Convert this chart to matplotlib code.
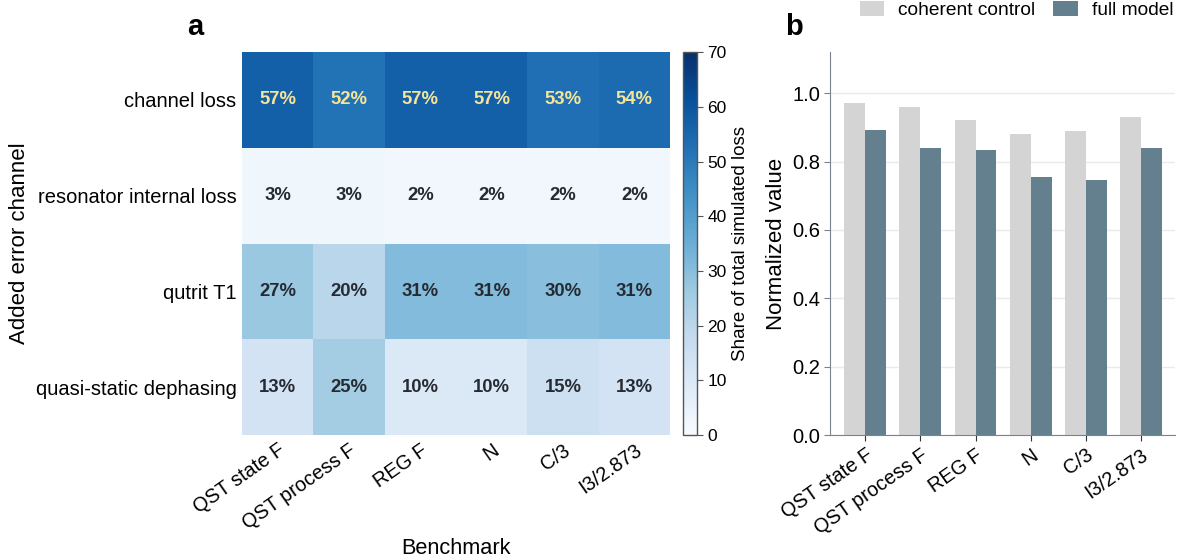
import matplotlib
matplotlib.use("Agg")
import matplotlib.pyplot as plt
import numpy as np

plt.rcParams["font.family"] = ["Liberation Sans", "DejaVu Sans"]

# heatmap data (share of total simulated loss, %)
benchmarks = ["QST state F", "QST process F", "REG F", "N", "C/3", "I3/2.873"]
channels = ["channel loss", "resonator internal loss", "qutrit T1", "quasi-static dephasing"]
channel_loss = [57, 52, 57, 57, 53, 54]
resonator_loss = [3, 3, 2, 2, 2, 2]
qutrit_t1 = [27, 20, 31, 31, 30, 31]
dephasing = [13, 25, 10, 10, 15, 13]

# bar data
coherent_control = [0.97, 0.96, 0.92, 0.88, 0.89, 0.93]
full_model = [0.893, 0.84, 0.835, 0.755, 0.746, 0.84]

bench_labels = ["QST state F", "QST process F", "REG F", "N", "C/3", "I3/2.873"]

grid = np.array([channel_loss, resonator_loss, qutrit_t1, dephasing], dtype=float)

fig = plt.figure(figsize=(11.79, 5.59), dpi=100)

# --- panel a: heatmap
ax = fig.add_axes([0.2053, 0.2218, 0.363, 0.685])
cax = fig.add_axes([0.5793, 0.2218, 0.0119, 0.685])
mesh = ax.pcolormesh(grid, cmap="Blues", vmin=0, vmax=70, linewidth=0)
ax.set_xlim(0, grid.shape[1])
ax.set_ylim(grid.shape[0], 0)
for i in range(grid.shape[0]):
    for j in range(grid.shape[1]):
        v = grid[i, j]
        col = "#f5e59a" if v > 45 else "#262b33"
        ax.text(j + 0.5, i + 0.5, f"{v:.0f}%", ha="center", va="center",
                fontsize=13.3, fontweight="bold", color=col)
ax.set_xticks(np.arange(len(benchmarks)) + 0.5)
ax.set_xticklabels(benchmarks, rotation=35, ha="right", rotation_mode="anchor", fontsize=14.3)
ax.set_yticks(np.arange(len(channels)) + 0.5)
ax.set_yticklabels(channels, fontsize=14.5)
ax.tick_params(length=0, pad=4)
for s in ax.spines.values():
    s.set_visible(False)
ax.set_xlabel("Benchmark", fontsize=15.7)
ax.set_ylabel("Added error channel", fontsize=16)
ax.text(-0.11, 1.03, "a", transform=ax.transAxes, fontsize=21, fontweight="bold",
        ha="center", va="bottom")

cb = fig.colorbar(mesh, cax=cax, ticks=range(0, 71, 10))
cb.set_label("Share of total simulated loss", fontsize=13.5)
cb.ax.tick_params(labelsize=12.5, length=4, color="#555555")
cb.outline.set_edgecolor("#555555")
cb.outline.set_linewidth(1)

# --- panel b: bars
bx = fig.add_axes([0.704, 0.2218, 0.2926, 0.685])
x = np.arange(len(bench_labels))
w = 0.38
bx.bar(x - w / 2, coherent_control, width=w, color="#d4d4d4", label="coherent control", zorder=2)
bx.bar(x + w / 2, full_model, width=w, color="#64808f", label="full model", zorder=2)
bx.set_xlim(-0.64, 5.62)
bx.set_ylim(0, 1.12)
bx.set_yticks([0.0, 0.2, 0.4, 0.6, 0.8, 1.0])
bx.set_yticklabels(["0.0", "0.2", "0.4", "0.6", "0.8", "1.0"])
bx.yaxis.grid(True, color="#eaeaea", linewidth=1, zorder=0)
bx.set_axisbelow(True)
bx.set_xticks(x)
bx.set_xticklabels(bench_labels, rotation=35, ha="right", rotation_mode="anchor", fontsize=14.3)
bx.tick_params(axis="y", length=4, color="#7a8290", labelsize=14.5, pad=3)
bx.tick_params(axis="x", length=4, color="#333333", labelsize=14.3)
for s in ["top", "right"]:
    bx.spines[s].set_visible(False)
for s in ["left", "bottom"]:
    bx.spines[s].set_color("#7a8290")
bx.set_ylabel("Normalized value", fontsize=16)
bx.text(-0.105, 1.03, "b", transform=bx.transAxes, fontsize=21, fontweight="bold",
        ha="center", va="bottom")
fig.legend(*bx.get_legend_handles_labels(), loc="upper right",
           bbox_to_anchor=(1174 / 1179, 1.0), ncol=2, frameon=False,
           fontsize=13.8, handlelength=1.3, handleheight=0.8, handletextpad=0.7,
           columnspacing=0.95, borderaxespad=0, borderpad=0.05)

fig.savefig("out.png", dpi=100)
